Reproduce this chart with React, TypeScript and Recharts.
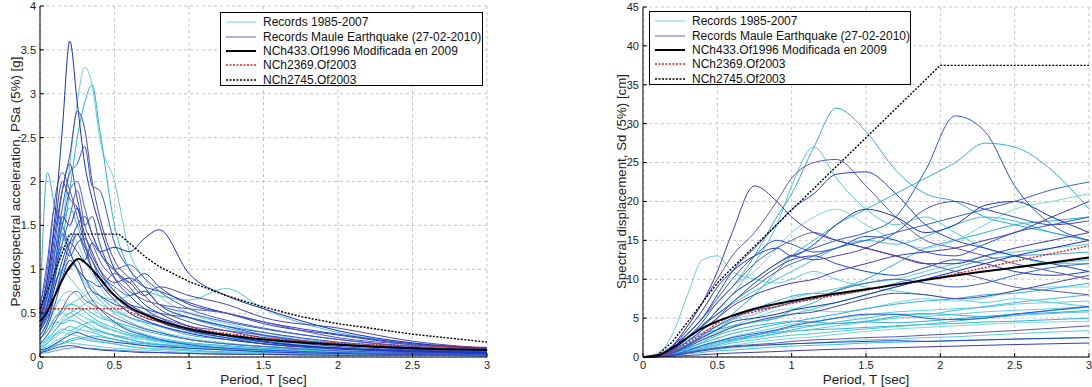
import React from 'react';
import { LineChart, Line, XAxis, YAxis, CartesianGrid } from 'recharts';

// ---------- left panel: pseudo spectral acceleration [g] ----------
const psaPeriods = [0, 0.05, 0.1, 0.15, 0.2, 0.25, 0.3, 0.35, 0.4, 0.5, 0.6, 0.7, 0.8, 1.0, 1.25, 1.5, 2.0, 2.5, 3.0];

const psaB1 = [0.5, 0.9, 1.6, 2.6, 3.6, 2.9, 2.2, 1.8, 1.5, 1.0, 0.8, 0.6, 0.5, 0.35, 0.25, 0.18, 0.1, 0.07, 0.05];
const psaB2 = [0.45, 0.8, 1.3, 1.9, 2.3, 2.8, 2.6, 2.0, 1.6, 1.1, 0.9, 0.7, 0.55, 0.4, 0.3, 0.22, 0.14, 0.09, 0.06];
const psaB3 = [0.4, 0.7, 1.2, 1.7, 2.1, 2.2, 2.4, 1.95, 1.9, 1.3, 1.0, 0.8, 0.6, 0.45, 0.35, 0.25, 0.15, 0.1, 0.07];
const psaB4 = [0.35, 0.5, 0.8, 1.1, 1.3, 1.2, 1.1, 1.3, 1.2, 1.25, 1.2, 1.35, 1.45, 0.95, 0.7, 0.55, 0.3, 0.16, 0.1];
const psaB5 = [0.3, 0.45, 0.7, 0.9, 1.0, 1.1, 0.9, 0.85, 0.8, 0.95, 0.85, 0.7, 0.8, 0.7, 0.6, 0.45, 0.33, 0.18, 0.1];
const psaB6 = [0.5, 0.9, 1.5, 2.0, 1.8, 1.7, 1.4, 1.2, 1.0, 0.75, 0.6, 0.5, 0.4, 0.3, 0.22, 0.15, 0.1, 0.06, 0.04];
const psaB7 = [0.3, 0.5, 0.9, 1.4, 1.2, 1.0, 0.8, 0.65, 0.55, 0.4, 0.3, 0.25, 0.2, 0.14, 0.1, 0.08, 0.05, 0.04, 0.03];
const psaB8 = [0.45, 0.7, 1.1, 1.3, 1.6, 1.9, 1.5, 1.3, 1.1, 0.9, 0.75, 0.65, 0.6, 0.55, 0.5, 0.4, 0.22, 0.14, 0.09];
const psaB9 = [0.2, 0.35, 0.6, 0.9, 1.1, 1.0, 0.9, 0.75, 0.7, 0.6, 0.55, 0.45, 0.4, 0.3, 0.25, 0.2, 0.12, 0.08, 0.06];
const psaB10 = [0.05, 0.07, 0.1, 0.12, 0.13, 0.12, 0.1, 0.09, 0.08, 0.07, 0.06, 0.05, 0.05, 0.04, 0.03, 0.03, 0.02, 0.02, 0.02];
const psaB11 = [0.6, 1.0, 1.8, 2.1, 1.9, 1.6, 1.3, 1.1, 0.9, 0.7, 0.55, 0.5, 0.45, 0.35, 0.3, 0.25, 0.14, 0.1, 0.07];
const psaB12 = [0.35, 0.55, 0.85, 1.0, 1.2, 1.4, 1.25, 1.1, 0.95, 0.8, 0.7, 0.75, 0.6, 0.5, 0.4, 0.32, 0.2, 0.12, 0.08];
const psaB13 = [0.4, 0.8, 1.4, 1.9, 2.2, 1.8, 1.5, 1.6, 1.3, 0.9, 0.7, 0.55, 0.45, 0.32, 0.24, 0.17, 0.1, 0.07, 0.05];
const psaB14 = [0.3, 0.6, 1.0, 1.6, 1.5, 1.7, 1.3, 1.0, 0.85, 0.65, 0.5, 0.42, 0.36, 0.27, 0.2, 0.15, 0.09, 0.06, 0.04];
const psaB15 = [0.5, 0.7, 1.2, 1.5, 1.9, 2.0, 1.7, 1.4, 1.2, 1.0, 1.05, 0.9, 0.75, 0.55, 0.42, 0.33, 0.2, 0.12, 0.08];
const psaB16 = [0.25, 0.4, 0.7, 1.0, 1.3, 1.5, 1.6, 1.4, 1.2, 1.0, 0.85, 0.95, 0.8, 0.6, 0.5, 0.38, 0.25, 0.14, 0.09];
const psaB17 = [0.15, 0.25, 0.4, 0.55, 0.7, 0.75, 0.65, 0.6, 0.55, 0.45, 0.38, 0.32, 0.28, 0.2, 0.15, 0.12, 0.07, 0.05, 0.04];
const psaB18 = [0.55, 1.1, 1.7, 1.5, 1.3, 1.4, 1.2, 1.0, 0.85, 0.7, 0.6, 0.55, 0.5, 0.45, 0.35, 0.28, 0.17, 0.11, 0.08];
const psaB19 = [0.08, 0.1, 0.15, 0.2, 0.25, 0.28, 0.25, 0.22, 0.2, 0.17, 0.15, 0.13, 0.12, 0.1, 0.08, 0.06, 0.04, 0.03, 0.03];
const psaB20 = [0.35, 0.6, 0.95, 1.25, 1.15, 1.3, 1.35, 1.15, 1.0, 0.85, 0.9, 0.8, 0.75, 0.62, 0.5, 0.4, 0.26, 0.15, 0.1];

const psaC1 = [0.45, 0.7, 1.0, 1.5, 2.2, 2.9, 3.3, 3.1, 2.5, 2.0, 1.2, 0.9, 0.7, 0.5, 0.38, 0.28, 0.16, 0.1, 0.07];
const psaC2 = [0.4, 0.6, 0.9, 1.3, 1.9, 2.5, 2.9, 3.1, 2.6, 1.5, 1.0, 0.8, 0.6, 0.45, 0.33, 0.24, 0.14, 0.09, 0.06];
const psaC3 = [0.5, 2.1, 1.7, 1.4, 1.2, 1.0, 0.9, 0.8, 0.7, 0.55, 0.45, 0.4, 0.35, 0.25, 0.2, 0.15, 0.1, 0.07, 0.05];
const psaC4 = [0.2, 0.3, 0.45, 0.55, 0.6, 0.65, 0.7, 0.75, 0.7, 0.65, 0.7, 0.75, 0.7, 0.65, 0.78, 0.55, 0.28, 0.16, 0.1];
const psaC5 = [0.15, 0.25, 0.35, 0.45, 0.5, 0.45, 0.4, 0.35, 0.3, 0.25, 0.2, 0.17, 0.15, 0.12, 0.09, 0.07, 0.05, 0.04, 0.03];
const psaC6 = [0.1, 0.15, 0.25, 0.3, 0.35, 0.32, 0.3, 0.28, 0.25, 0.2, 0.16, 0.13, 0.11, 0.08, 0.06, 0.05, 0.03, 0.02, 0.02];
const psaC7 = [0.25, 0.4, 0.55, 0.5, 0.45, 0.5, 0.45, 0.4, 0.35, 0.3, 0.25, 0.22, 0.18, 0.13, 0.1, 0.08, 0.05, 0.04, 0.03];
const psaC8 = [0.05, 0.08, 0.12, 0.16, 0.2, 0.22, 0.2, 0.18, 0.17, 0.15, 0.12, 0.1, 0.09, 0.07, 0.05, 0.04, 0.03, 0.02, 0.02];
const psaC9 = [0.3, 0.5, 0.8, 1.0, 0.9, 0.8, 0.7, 0.6, 0.5, 0.4, 0.32, 0.26, 0.22, 0.16, 0.12, 0.09, 0.06, 0.04, 0.03];
const psaC10 = [0.1, 0.12, 0.18, 0.22, 0.28, 0.3, 0.35, 0.3, 0.28, 0.25, 0.22, 0.2, 0.18, 0.15, 0.12, 0.1, 0.07, 0.05, 0.04];
const psaC11 = [0.2, 0.3, 0.4, 0.38, 0.42, 0.4, 0.36, 0.32, 0.3, 0.24, 0.2, 0.16, 0.14, 0.1, 0.08, 0.06, 0.04, 0.03, 0.02];
const psaC12 = [0.35, 0.55, 0.9, 1.2, 1.4, 1.3, 1.1, 0.95, 0.8, 0.6, 0.45, 0.38, 0.3, 0.22, 0.16, 0.12, 0.08, 0.06, 0.04];
const psaC13 = [0.08, 0.1, 0.14, 0.18, 0.16, 0.15, 0.14, 0.13, 0.12, 0.1, 0.09, 0.08, 0.07, 0.05, 0.04, 0.03, 0.02, 0.02, 0.01];
const psaC14 = [0.15, 0.2, 0.3, 0.4, 0.45, 0.5, 0.55, 0.5, 0.45, 0.4, 0.35, 0.3, 0.26, 0.2, 0.15, 0.12, 0.08, 0.06, 0.04];
const psaC15 = [0.2, 0.35, 0.55, 0.7, 0.75, 0.7, 0.6, 0.55, 0.48, 0.38, 0.3, 0.24, 0.2, 0.14, 0.1, 0.08, 0.05, 0.03, 0.02];
const psaC16 = [0.12, 0.18, 0.26, 0.32, 0.3, 0.34, 0.38, 0.4, 0.36, 0.3, 0.25, 0.22, 0.19, 0.15, 0.12, 0.09, 0.06, 0.04, 0.03];
const psaC17 = [0.3, 0.45, 0.6, 0.65, 0.55, 0.5, 0.45, 0.42, 0.38, 0.3, 0.24, 0.2, 0.17, 0.12, 0.09, 0.07, 0.04, 0.03, 0.02];
const psaC18 = [0.06, 0.09, 0.13, 0.15, 0.18, 0.2, 0.22, 0.24, 0.23, 0.2, 0.17, 0.15, 0.14, 0.12, 0.1, 0.08, 0.05, 0.04, 0.03];
const psaC19 = [0.25, 0.4, 0.7, 0.95, 1.1, 1.0, 0.85, 0.75, 0.65, 0.5, 0.4, 0.33, 0.28, 0.2, 0.15, 0.12, 0.08, 0.05, 0.04];
const psaC20 = [0.18, 0.22, 0.3, 0.42, 0.5, 0.55, 0.6, 0.65, 0.6, 0.52, 0.45, 0.4, 0.35, 0.28, 0.22, 0.18, 0.11, 0.07, 0.05];
const psaC21 = [0.04, 0.05, 0.07, 0.09, 0.1, 0.11, 0.1, 0.1, 0.09, 0.08, 0.07, 0.06, 0.05, 0.04, 0.04, 0.03, 0.02, 0.02, 0.01];
const psaC22 = [0.4, 0.65, 1.1, 1.5, 1.7, 1.5, 1.25, 1.1, 0.95, 0.75, 0.6, 0.5, 0.42, 0.3, 0.22, 0.17, 0.1, 0.07, 0.05];
const psaC23 = [0.1, 0.16, 0.22, 0.28, 0.26, 0.24, 0.22, 0.2, 0.18, 0.15, 0.12, 0.1, 0.09, 0.07, 0.05, 0.04, 0.03, 0.02, 0.02];
const psaC24 = [0.22, 0.3, 0.45, 0.5, 0.6, 0.58, 0.52, 0.45, 0.4, 0.33, 0.27, 0.23, 0.2, 0.16, 0.13, 0.1, 0.07, 0.05, 0.04];

const psa433T = [0, 0.05, 0.1, 0.15, 0.2, 0.26, 0.3, 0.4, 0.5, 0.6, 0.75, 1.0, 1.25, 1.5, 2.0, 2.5, 3.0];
const psa433V = [0.4, 0.52, 0.7, 0.88, 1.03, 1.12, 1.08, 0.9, 0.7, 0.57, 0.45, 0.32, 0.25, 0.2, 0.14, 0.1, 0.08];
const psa2369T = [0, 0.55, 0.62, 0.75, 1.0, 1.25, 1.5, 2.0, 2.5, 3.0];
const psa2369V = [0.55, 0.55, 0.5, 0.43, 0.33, 0.27, 0.22, 0.16, 0.13, 0.11];
const psa2745T = [0, 0.2, 0.53, 0.6, 0.7, 0.8, 1.0, 1.25, 1.5, 1.75, 2.0, 2.5, 3.0];
const psa2745V = [0.55, 1.4, 1.4, 1.3, 1.15, 1.03, 0.86, 0.7, 0.57, 0.46, 0.38, 0.26, 0.17];

// ---------- right panel: spectral displacement [cm] ----------
const sdPeriods = [0, 0.1, 0.2, 0.3, 0.4, 0.5, 0.6, 0.75, 0.9, 1.0, 1.15, 1.3, 1.5, 1.7, 1.9, 2.1, 2.3, 2.5, 2.75, 3.0];

const sdC1 = [0, 0.3, 1.5, 3, 5, 7, 9, 13, 18, 21, 27, 32, 29, 24, 21, 20, 18, 17, 16, 15];
const sdC2 = [0, 0.2, 1, 2.5, 4, 6, 8, 12, 17, 22, 27, 23, 19, 17, 18, 16, 14, 13, 12, 12];
const sdC3 = [0, 0.1, 0.6, 1.5, 2.8, 4, 5.5, 8, 11, 13, 15, 17, 19, 21, 23, 25, 27.5, 27, 24, 19];
const sdC4 = [0, 0.5, 3, 8, 12.5, 13, 11, 10, 9.5, 10, 11, 10, 9, 8.5, 8, 7.5, 7, 7.5, 7, 6.5];
const sdC5 = [0, 0.1, 0.5, 1.0, 1.5, 2, 2.3, 2.8, 3.2, 3.3, 3.5, 3.6, 3.8, 4, 4.2, 4.3, 4.5, 4.6, 4.8, 5];
const sdC6 = [0, 0.1, 0.4, 0.9, 1.3, 1.8, 2.2, 2.5, 3, 3.5, 4, 4.5, 5, 5.5, 5.5, 6, 6.5, 7, 7.5, 8];
const sdC7 = [0, 0.05, 0.2, 0.5, 0.8, 1, 1.2, 1.4, 1.6, 1.7, 1.8, 2, 2.2, 2.3, 2.5, 2.6, 2.8, 3, 3.2, 3.4];
const sdC8 = [0, 0.1, 0.6, 1.4, 2.2, 3, 3.8, 4.5, 5, 5.5, 6.2, 7, 8, 9, 10, 10.5, 11, 11.5, 12, 12.5];
const sdC9 = [0, 0.15, 0.8, 2, 3, 3.5, 4, 4.5, 5, 6, 7, 8.5, 10, 12, 14, 15, 16, 17, 17.5, 18];
const sdC10 = [0, 0.05, 0.3, 0.7, 1.2, 1.6, 2, 2.6, 3, 3.3, 3.6, 4, 4.5, 5, 5.2, 5.5, 5.8, 6, 6.2, 6.5];
const sdC11 = [0, 0.1, 0.5, 1.2, 1.8, 2.4, 3, 3.6, 4.2, 4.5, 5, 5.5, 6.2, 6.8, 7.2, 7.5, 8, 8.2, 8.8, 9.5];
const sdC12 = [0, 0.05, 0.25, 0.6, 0.9, 1.2, 1.5, 1.9, 2.2, 2.4, 2.6, 2.9, 3.3, 3.6, 3.8, 4, 4.2, 4.4, 4.5, 4.6];
const sdC13 = [0, 0.2, 1.2, 3, 5, 7, 9, 11, 14, 16, 18, 19, 17, 15, 14, 15, 17, 19, 20, 21];
const sdC14 = [0, 0.05, 0.3, 0.8, 1.3, 2, 2.6, 3.2, 3.8, 4.2, 4.6, 5, 5.4, 5.8, 6, 6.2, 6.4, 6.8, 7, 7.2];
const sdC15 = [0, 0.1, 0.4, 1.1, 1.9, 2.8, 3.4, 4.0, 4.4, 4.6, 4.5, 4.3, 4.6, 5.2, 5.6, 5.4, 5.2, 5.5, 6, 6.4];
const sdC16 = [0, 0.05, 0.2, 0.4, 0.6, 0.8, 0.9, 1.1, 1.3, 1.4, 1.5, 1.6, 1.8, 1.9, 2, 2.1, 2.2, 2.3, 2.4, 2.5];
const sdC17 = [0, 0.15, 0.9, 2.2, 3.2, 4, 4.8, 5.5, 6.5, 7.5, 8.2, 8.8, 9.5, 10, 11, 12, 13, 13.5, 14, 14.5];
const sdC18 = [0, 0.1, 0.5, 1.3, 2.3, 3.2, 4.0, 5.0, 6.0, 6.2, 6.0, 5.8, 6.2, 7.0, 7.5, 7.2, 7.6, 8.5, 9, 9];
const sdC19 = [0, 0.05, 0.3, 0.7, 1.0, 1.4, 1.8, 2.2, 2.6, 2.8, 3.0, 3.3, 3.6, 3.9, 4.2, 4.6, 5.0, 5.3, 5.6, 5.8];
const sdC20 = [0, 0.2, 1.1, 2.6, 4.2, 5.5, 6.8, 8.5, 10, 11, 12.5, 14, 15, 14.5, 15.5, 17, 18, 17.5, 16, 15];
const sdC21 = [0, 0.05, 0.2, 0.6, 1.1, 1.6, 2.1, 2.8, 3.4, 3.8, 4.1, 4.3, 4.5, 4.4, 4.6, 4.9, 5.2, 5.5, 5.7, 6];
const sdC22 = [0, 0.1, 0.7, 1.6, 2.6, 3.6, 4.8, 6.2, 7.2, 7.8, 8.2, 8.0, 8.6, 9.5, 10.5, 11.5, 12.5, 13.0, 13.2, 13.5];

const sdB1 = [0, 0.2, 1, 2.5, 4, 6, 8, 10, 12, 13, 14, 15, 16, 18, 24, 31, 29, 22, 17, 15];
const sdB2 = [0, 0.3, 1.5, 4, 7, 10, 13, 16, 20, 23, 25, 25.4, 22, 18, 15, 14, 13, 12, 11, 10];
const sdB3 = [0, 0.2, 1.2, 3, 5, 8, 11, 14, 17, 19, 21, 23.5, 23.8, 21, 17, 15, 14, 13, 12, 11];
const sdB4 = [0, 0.3, 1.5, 4, 7, 11, 16, 22, 20, 18, 16, 15, 14, 13, 12, 12, 13, 14, 15, 16];
const sdB5 = [0, 0.1, 0.8, 2, 3.5, 5, 7, 9, 11, 12, 13, 14, 15, 16, 17, 18, 19, 20, 21.5, 22.5];
const sdB6 = [0, 0.02, 0.1, 0.2, 0.3, 0.4, 0.5, 0.6, 0.7, 0.8, 0.9, 1.0, 1.1, 1.2, 1.3, 1.4, 1.5, 1.6, 1.7, 1.8];
const sdB7 = [0, 0.2, 1, 2.5, 4.5, 7, 9, 12, 14, 15, 16, 15, 14, 13, 12, 11, 10, 9, 8.5, 8];
const sdB8 = [0, 0.1, 0.6, 1.5, 2.5, 3.5, 4.5, 5, 5.5, 6, 6.5, 7, 8, 9, 10, 11, 12, 13, 14, 15];
const sdB9 = [0, 0.05, 0.3, 0.8, 1.5, 2, 2.5, 3, 3.5, 4, 4.5, 5, 5.5, 5.5, 5, 4.8, 5, 5.5, 6, 6.5];
const sdB10 = [0, 0.2, 1, 2.5, 4, 6, 8, 10, 12, 13, 12.5, 13, 14, 16, 19, 20, 19, 18, 17, 17.5];
const sdB11 = [0, 0.1, 0.3, 0.6, 0.9, 1.2, 1.4, 1.6, 1.8, 2, 2.2, 2.3, 2.5, 2.6, 2.8, 3, 3.2, 3.4, 3.7, 4];
const sdB12 = [0, 0.15, 0.8, 2, 3.5, 5, 6.5, 8, 9, 9.5, 10, 11, 12, 13, 13.5, 14, 15, 16, 18, 20];
const sdB13 = [0, 0.2, 1.2, 3, 5, 7.5, 10, 13, 15, 14.5, 13.5, 14, 15.5, 15, 13.5, 13, 14.5, 16, 17, 18];
const sdB14 = [0, 0.1, 0.5, 1.3, 2.2, 3, 3.8, 4.6, 5.2, 5.5, 5.8, 6.5, 7.5, 8.2, 8, 7.5, 7.8, 8.5, 9.5, 10.5];
const sdB15 = [0, 0.15, 0.9, 2.4, 4, 5.5, 7, 9.5, 11.5, 12.5, 13, 12, 11, 10.5, 11.5, 12.5, 12, 11, 10.5, 11];
const sdB16 = [0, 0.05, 0.2, 0.5, 0.8, 1.1, 1.3, 1.5, 1.6, 1.7, 1.8, 1.9, 2.0, 2.1, 2.0, 2.1, 2.2, 2.3, 2.4, 2.5];
const sdB17 = [0, 0.25, 1.4, 3.5, 6, 9, 11, 13, 14, 13, 14.5, 17, 19, 18, 16, 17, 19.5, 20, 18, 16];
const sdB18 = [0, 0.1, 0.6, 1.6, 2.8, 4, 5, 6, 6.5, 7, 7.5, 8.5, 9.5, 10, 9.5, 9, 9.5, 10.5, 11.5, 12];

const sd433T = [0, 0.1, 0.2, 0.3, 0.4, 0.5, 0.6, 0.75, 1.0, 1.25, 1.5, 2.0, 2.5, 3.0];
const sd433V = [0, 0.2, 1.2, 2.5, 3.7, 4.6, 5.3, 6.2, 7.2, 8.0, 8.7, 10.2, 11.5, 12.8];
const sd2369T = [0, 0.1, 0.2, 0.3, 0.4, 0.55, 0.75, 1.0, 1.5, 2.0, 2.5, 3.0];
const sd2369V = [0, 0.1, 0.8, 1.8, 3.0, 4.9, 5.8, 6.9, 8.6, 10.3, 12.3, 14.3];
const sd2745T = [0, 0.1, 0.2, 0.3, 0.4, 0.5, 0.55, 1.0, 1.5, 2.0, 3.0];
const sd2745V = [0, 0.3, 2, 4.5, 7, 9.5, 10.5, 18.9, 28.2, 37.5, 37.5];

const xTicks = [0, 0.5, 1, 1.5, 2, 2.5, 3];
const psaTicks = [0, 0.5, 1, 1.5, 2, 2.5, 3, 3.5, 4];
const sdTicks = [0, 5, 10, 15, 20, 25, 30, 35, 40, 45];

const cyanShades = ['#5fd0d8', '#3fc0d6', '#7ad8dc', '#2fb4da', '#4ccbd0', '#38a8dc', '#66ccd8', '#22b8d8'];
const blueShades = ['#3a3ab8', '#1e40d0', '#5a58b0', '#2a55e0', '#4646a8', '#1630c0', '#3c60d8'];

const legendItems = [
  { label: 'Records 1985-2007', color: '#6fd3da', w: 1, dash: '' },
  { label: 'Records Maule Earthquake (27-02-2010)', color: '#6666b4', w: 1, dash: '' },
  { label: 'NCh433.Of1996 Modificada en 2009', color: '#000000', w: 2, dash: '' },
  { label: 'NCh2369.Of2003', color: '#e02020', w: 1.3, dash: '2 1.5' },
  { label: 'NCh2745.Of2003', color: '#000000', w: 1.3, dash: '2 1.5' },
];

const pts = (ts: number[], vs: number[]) => ts.map((T, i) => ({ T, v: vs[i] }));

const FONT = 'Liberation Sans, Arial, sans-serif';

type PanelProps = {
  left: number;
  width: number;
  marginTop: number;
  marginRight: number;
  yWidth: number;
  yMax: number;
  yTicks: number[];
  periods: number[];
  cyan: number[][];
  blue: number[][];
  d433: [number[], number[]];
  d2369: [number[], number[]];
  d2745: [number[], number[]];
  legendLeft: number;
  legendTop: number;
  legendWidth: number;
  yTitle: string;
  yTitleX: number;
};

const Panel = (p: PanelProps) => {
  const plotW = p.width - p.yWidth - p.marginRight;
  return (
    <div style={{ position: 'absolute', left: p.left, top: 0, width: p.width, height: 387 }}>
      <LineChart width={p.width} height={387} margin={{ top: p.marginTop, right: p.marginRight, bottom: 0, left: 0 }}>
        <CartesianGrid stroke="#c4c4c4" strokeDasharray="3 3" />
        <XAxis
          dataKey="T"
          type="number"
          domain={[0, 3]}
          ticks={xTicks}
          height={30}
          allowDuplicatedCategory={false}
          stroke="#000"
          tickSize={-4}
          tickMargin={8}
          tick={{ fill: '#222', fontSize: 11, fontFamily: FONT }}
        />
        <XAxis xAxisId="top" orientation="top" type="number" domain={[0, 3]} ticks={xTicks} height={0} stroke="#000" tick={false} tickSize={-4} />
        <YAxis
          type="number"
          domain={[0, p.yMax]}
          ticks={p.yTicks}
          width={p.yWidth}
          stroke="#000"
          tickSize={-4}
          tickMargin={8}
          tick={{ fill: '#222', fontSize: 11, fontFamily: FONT }}
        />
        <YAxis yAxisId="right" orientation="right" type="number" domain={[0, p.yMax]} ticks={p.yTicks} width={0} stroke="#000" tick={false} tickSize={-4} />
        {p.cyan.map((vs, i) => (
          <Line key={'c' + i} data={pts(p.periods, vs)} dataKey="v" type="monotone" stroke={cyanShades[i % cyanShades.length]} strokeWidth={1} dot={false} isAnimationActive={false} />
        ))}
        {p.blue.map((vs, i) => (
          <Line key={'b' + i} data={pts(p.periods, vs)} dataKey="v" type="monotone" stroke={blueShades[i % blueShades.length]} strokeWidth={1} dot={false} isAnimationActive={false} />
        ))}
        <Line data={pts(p.d2369[0], p.d2369[1])} dataKey="v" type="monotone" stroke="#e02020" strokeWidth={1.4} strokeDasharray="2 1.5" dot={false} isAnimationActive={false} />
        <Line data={pts(p.d433[0], p.d433[1])} dataKey="v" type="monotone" stroke="#000" strokeWidth={2} dot={false} isAnimationActive={false} />
        <Line data={pts(p.d2745[0], p.d2745[1])} dataKey="v" type="linear" stroke="#000" strokeWidth={1.4} strokeDasharray="2 1.5" dot={false} isAnimationActive={false} />
      </LineChart>

      {/* legend box */}
      <div
        style={{
          position: 'absolute',
          left: p.legendLeft,
          top: p.legendTop,
          width: p.legendWidth,
          height: 74,
          border: '1.5px solid #000',
          background: '#fff',
          fontFamily: FONT,
          fontSize: 12,
          color: '#111',
          boxSizing: 'border-box',
          paddingTop: 2,
        }}
      >
        {legendItems.map((it) => (
          <div key={it.label} style={{ display: 'flex', alignItems: 'center', height: 14.4, whiteSpace: 'nowrap' }}>
            <svg width={34} height={10} style={{ marginLeft: 5, marginRight: 3 }}>
              <line x1={0} y1={5} x2={30} y2={5} stroke={it.color} strokeWidth={it.w} strokeDasharray={it.dash || undefined} />
            </svg>
            <span>{it.label}</span>
          </div>
        ))}
      </div>

      {/* axis titles */}
      <div
        style={{
          position: 'absolute',
          left: p.yTitleX - 150,
          top: 182 - 8,
          width: 300,
          textAlign: 'center',
          transform: 'rotate(-90deg)',
          fontFamily: FONT,
          fontSize: 13.3,
          color: '#222',
          whiteSpace: 'nowrap',
        }}
      >
        {p.yTitle}
      </div>
      <div
        style={{
          position: 'absolute',
          left: p.yWidth,
          top: 372,
          width: plotW,
          textAlign: 'center',
          fontFamily: FONT,
          fontSize: 13.5,
          lineHeight: '15px',
          color: '#222',
        }}
      >
        Period, T [sec]
      </div>
    </div>
  );
};

export default function App() {
  return (
    <div style={{ position: 'absolute', left: 0, top: 0, width: 1092, height: 387, background: '#fff' }}>
      <Panel
        left={0}
        width={500}
        marginTop={6}
        marginRight={13}
        yWidth={40}
        yMax={4}
        yTicks={psaTicks}
        periods={psaPeriods}
        cyan={[psaC5, psaC6, psaC7, psaC8, psaC10, psaC11, psaC13, psaC14, psaC15, psaC16, psaC17, psaC18, psaC20, psaC21, psaC23, psaC24, psaC9, psaC19, psaC12, psaC22, psaC4, psaC3, psaC1, psaC2]}
        blue={[psaB10, psaB19, psaB17, psaB7, psaB9, psaB14, psaB12, psaB20, psaB16, psaB8, psaB18, psaB5, psaB4, psaB15, psaB6, psaB13, psaB11, psaB3, psaB2, psaB1]}
        d433={[psa433T, psa433V]}
        d2369={[psa2369T, psa2369V]}
        d2745={[psa2745T, psa2745V]}
        legendLeft={220}
        legendTop={12}
        legendWidth={263}
        yTitle="Pseudospectral acceleration, PSa (5%) [g]"
        yTitleX={15}
      />
      <Panel
        left={600}
        width={492}
        marginTop={7}
        marginRight={3}
        yWidth={43}
        yMax={45}
        yTicks={sdTicks}
        periods={sdPeriods}
        cyan={[sdC7, sdC16, sdC12, sdC5, sdC19, sdC21, sdC10, sdC15, sdC14, sdC6, sdC18, sdC11, sdC8, sdC22, sdC17, sdC9, sdC4, sdC20, sdC13, sdC3, sdC2, sdC1]}
        blue={[sdB6, sdB16, sdB11, sdB9, sdB14, sdB8, sdB18, sdB12, sdB15, sdB7, sdB13, sdB10, sdB17, sdB5, sdB4, sdB3, sdB2, sdB1]}
        d433={[sd433T, sd433V]}
        d2369={[sd2369T, sd2369V]}
        d2745={[sd2745T, sd2745V]}
        legendLeft={49}
        legendTop={11}
        legendWidth={262}
        yTitle="Spectral displacement, Sd (5%) [cm]"
        yTitleX={21}
      />
    </div>
  );
}
